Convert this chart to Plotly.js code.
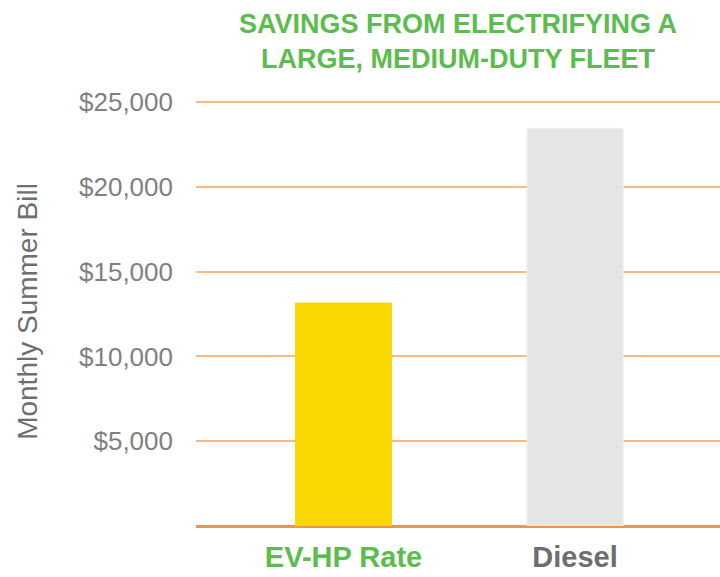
<!DOCTYPE html>
<html>
<head>
<meta charset="utf-8">
<script src="https://cdn.plot.ly/plotly-3.0.1.min.js"></script>
<style>html,body{margin:0;padding:0;background:#fff}#chart{width:720px;height:577px}</style>
</head>
<body>
<div id="chart"></div>
<script>
const categories = ['EV-HP Rate', 'Diesel'];
const monthlyBill = [13150, 23450];
const barColors = ['#F9D804', '#E5E5E5'];
const tickLabelColors = ['#5BBD4E', '#6E6E6E'];
const yTickVals = [5000, 10000, 15000, 20000, 25000];
const yTickText = ['$5,000', '$10,000', '$15,000', '$20,000', '$25,000'];

const trace = {
  type: 'bar',
  x: categories,
  y: monthlyBill,
  width: 0.415,
  marker: {color: barColors, line: {color: ['#F9D804', '#EFEFEF'], width: 1}},
  hoverinfo: 'none'
};

const layout = {
  width: 720, height: 577,
  margin: {l: 196, r: 0, t: 97, b: 51},
  paper_bgcolor: '#fff', plot_bgcolor: '#fff',
  font: {family: 'Liberation Sans, Arial, sans-serif'},
  showlegend: false,
  title: {
    text: 'SAVINGS FROM ELECTRIFYING A<br>LARGE, MEDIUM-DUTY FLEET',
    font: {size: 27, color: '#5BBD4E', weight: 'bold'},
    xref: 'paper', x: 0.5, xanchor: 'center',
    yref: 'container', y: 1 - 33/577, yanchor: 'middle'
  },
  xaxis: {
    type: 'category',
    range: [-0.637, 1.626],
    tickvals: categories,
    ticktext: categories.map((c, i) => '<b><span style="color:' + tickLabelColors[i] + '">' + c + '</span></b>'),
    tickfont: {size: 29, color: '#6E6E6E'},
    showgrid: false, showline: false, ticks: '', zeroline: false,
    ticklabelstandoff: 11
  },
  yaxis: {
    range: [0, 25300],
    tickvals: yTickVals, ticktext: yTickText,
    tickfont: {size: 26, color: '#808080'},
    showgrid: true, gridcolor: '#FBB97F', gridwidth: 2,
    zeroline: true, zerolinecolor: '#F29447', zerolinewidth: 3,
    showline: false, ticks: '',
    ticklabelstandoff: 22,
    title: {text: 'Monthly Summer Bill', font: {size: 28, color: '#6E6E6E'}, standoff: 33}
  }
};

Plotly.newPlot('chart', [trace], layout, {displayModeBar: false, staticPlot: true});
</script>
</body>
</html>
